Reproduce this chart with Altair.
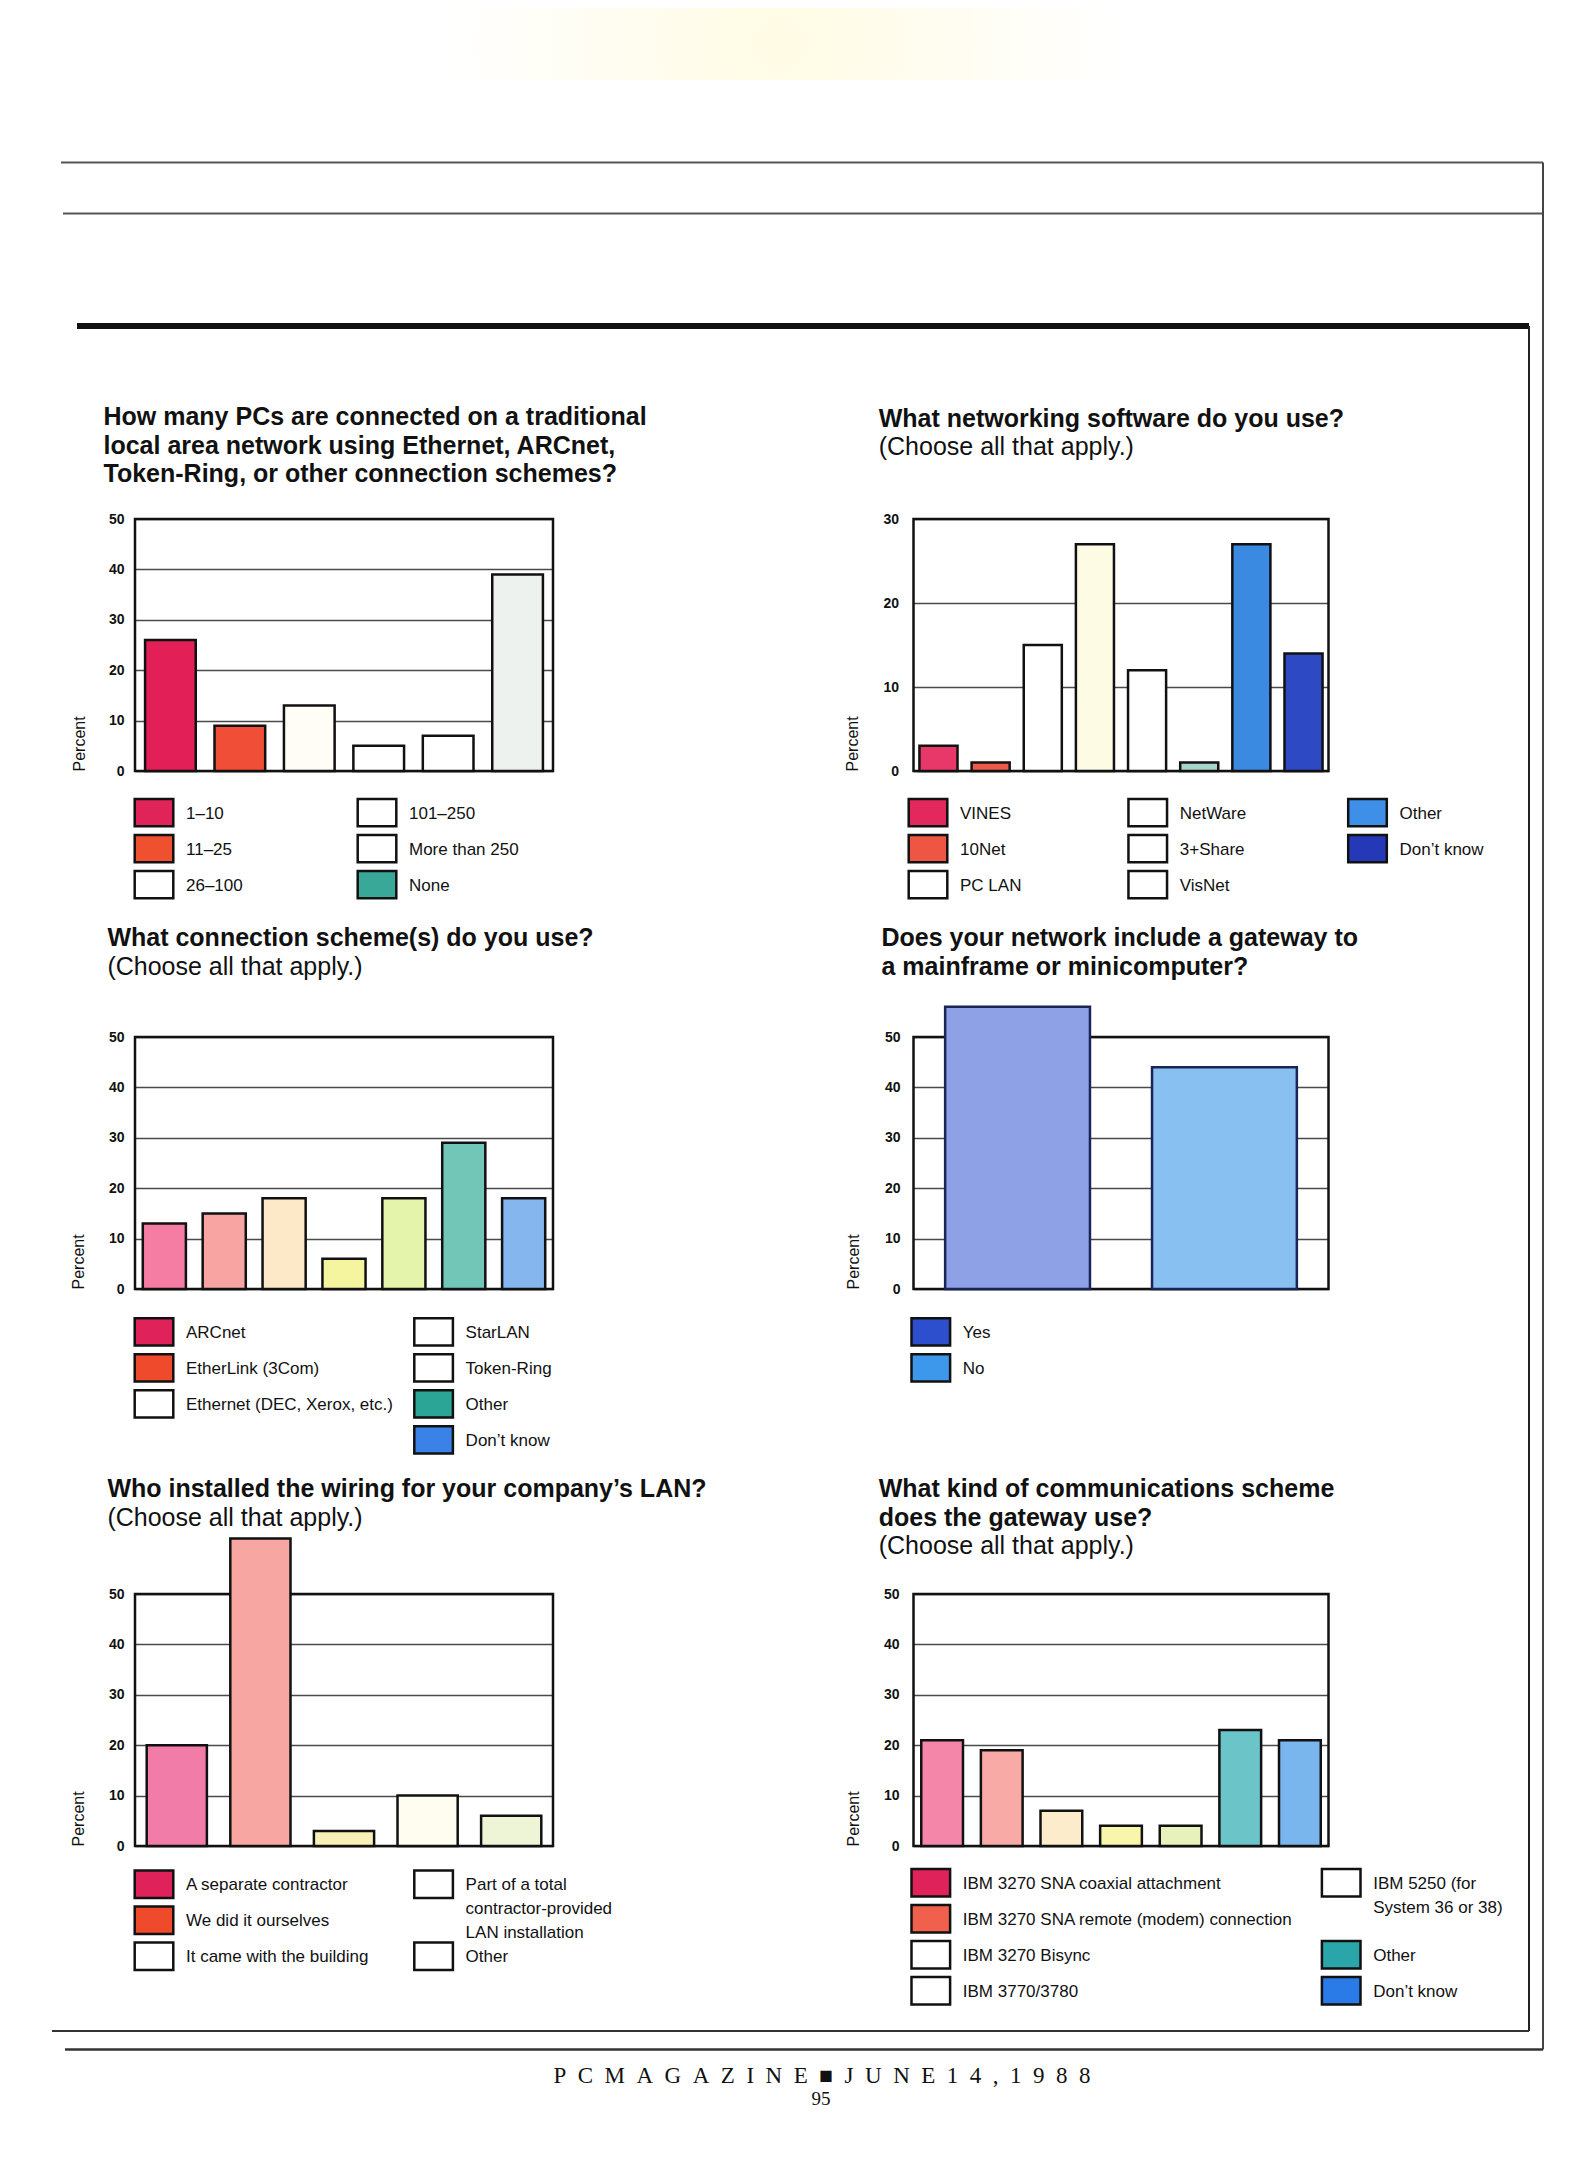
import altair as alt
import pandas as pd

SANS = "Liberation Sans, Arial, Helvetica, sans-serif"
KEYFONT = "Liberation Sans, Arial, Helvetica, sans-serif"
SERIF = "Liberation Serif, Times New Roman, serif"

# ---------------- data ----------------
p1_bold = ["How many PCs are connected on a traditional",
           "local area network using Ethernet, ARCnet,",
           "Token-Ring, or other connection schemes?"]
p1_reg = []
p1_keys = [["1–10", "11–25", "26–100"],
           ["101–250", "More than 250", "None"]]
p1_vals = [26, 9, 13, 5, 7, 39]
p1_bar = ["#e21f56", "#f04e36", "#fffdf6", "#ffffff", "#ffffff", "#edf2ee"]
p1_key = ["#e0245a", "#ef5030", "#ffffff", "#ffffff", "#ffffff", "#3aa898"]
p1_ticks = [0, 10, 20, 30, 40, 50]

p2_bold = ["What networking software do you use?"]
p2_reg = ["(Choose all that apply.)"]
p2_keys = [["VINES", "10Net", "PC LAN"],
           ["NetWare", "3+Share", "VisNet"],
           ["Other", "Don’t know"]]
p2_vals = [3, 1, 15, 27, 12, 1, 27, 14]
p2_bar = ["#e8386a", "#ee5a48", "#ffffff", "#fefbe4", "#ffffff", "#a6d6ca", "#3b8ae2", "#2d4ac4"]
p2_key = ["#e2285c", "#ee5644", "#ffffff", "#ffffff", "#ffffff", "#ffffff", "#3d8fe8", "#2438b8"]
p2_ticks = [0, 10, 20, 30]

p3_bold = ["What connection scheme(s) do you use?"]
p3_reg = ["(Choose all that apply.)"]
p3_keys = [["ARCnet", "EtherLink (3Com)", "Ethernet (DEC, Xerox, etc.)"],
           ["StarLAN", "Token-Ring", "Other", "Don’t know"]]
p3_vals = [13, 15, 18, 6, 18, 29, 18]
p3_bar = ["#f57ca2", "#f7a4a2", "#fde8c8", "#f4f59e", "#e4f4aa", "#72c6b8", "#86b6ee"]
p3_key = ["#e0225a", "#f04a2c", "#ffffff", "#ffffff", "#ffffff", "#2aa596", "#3a82e8"]
p3_ticks = [0, 10, 20, 30, 40, 50]

p4_bold = ["Does your network include a gateway to",
           "a mainframe or minicomputer?"]
p4_reg = []
p4_keys = [["Yes", "No"]]
p4_vals = [56, 44]
p4_bar = ["#8ea0e6", "#88c0f2"]
p4_key = ["#2d4fce", "#3d98ec"]
p4_ticks = [0, 10, 20, 30, 40, 50]

p5_bold = ["Who installed the wiring for your company’s LAN?"]
p5_reg = ["(Choose all that apply.)"]
p5_keys = [["A separate contractor", "We did it ourselves", "It came with the building"],
           ["Part of a total\ncontractor-provided\nLAN installation", "Other"]]
p5_vals = [20, 61, 3, 10, 6]
p5_bar = ["#f27ca8", "#f7a6a2", "#f8f0b6", "#fefdf0", "#eef4d6"]
p5_key = ["#e0225a", "#f04a2c", "#ffffff", "#ffffff", "#ffffff"]
p5_ticks = [0, 10, 20, 30, 40, 50]

p6_bold = ["What kind of communications scheme",
           "does the gateway use?"]
p6_reg = ["(Choose all that apply.)"]
p6_keys = [["IBM 3270 SNA coaxial attachment", "IBM 3270 SNA remote (modem) connection",
            "IBM 3270 Bisync", "IBM 3770/3780"],
           ["IBM 5250 (for\nSystem 36 or 38)", "Other", "Don’t know"]]
p6_vals = [21, 19, 7, 4, 4, 23, 21]
p6_bar = ["#f486aa", "#f7aaa6", "#fdeccc", "#f8f6aa", "#e6f2ba", "#6ac4c8", "#7ab6ee"]
p6_key = ["#e0225a", "#f0604c", "#ffffff", "#ffffff", "#ffffff", "#2aa5aa", "#2a7ae8"]
p6_ticks = [0, 10, 20, 30, 40, 50]

footer_text = "PC MAGAZINE ■ JUNE 14, 1988"
page_number = "95"

# ---------------- layout helpers ----------------
OX, OY = 135, 519          # page position of the first panel's plot origin
HD = 252                   # plot-box height
ROW = 36                   # key row step
SWATCH = "M-1,-0.71L1,-0.71L1,0.71L-1,0.71Z"
ONE = pd.DataFrame({"k": [0]})


def px(x):
    return x - OX


def py(y):
    return y - OY


def hline(x1, x2, y, w, c="#3a3a3a"):
    return alt.Chart(ONE).mark_rule(color=c, strokeWidth=w).encode(
        x=alt.value(px(x1)), x2=alt.value(px(x2)), y=alt.value(py(y)))


def vline(x, y1, y2, w, c="#3a3a3a"):
    return alt.Chart(ONE).mark_rule(color=c, strokeWidth=w).encode(
        x=alt.value(px(x)), y=alt.value(py(y1)), y2=alt.value(py(y2)))


def panel(bold, reg, keys, vals, bar_cols, key_cols, ticks, W, VH, title_dx, title_y0,
          key_x, key_top, axis_tx, label_pad, pin, pout, stroke="#111", pre=()):
    cats = [lab for col in keys for lab in col]
    ymax = ticks[-1]
    bars_df = pd.DataFrame({"cat": cats, "val": vals, "fill": bar_cols})
    recs = []
    for ci, col in enumerate(keys):
        r = 0
        for lab in col:
            recs.append({"label": lab, "col": ci, "row": r})
            r += min(lab.count("\n") + 1, 2)
    key_df = pd.DataFrame(recs)
    key_df["fill"] = key_cols

    frame = alt.Chart(ONE).mark_rect(filled=False, stroke="#111", strokeWidth=2.5).encode(
        x=alt.value(0), x2=alt.value(W), y=alt.value(0), y2=alt.value(HD))
    bars = alt.Chart(bars_df).mark_bar(stroke=stroke, strokeWidth=2.5).encode(
        x=alt.X("cat:N", sort=cats, axis=None,
                scale=alt.Scale(paddingInner=pin, paddingOuter=pout)),
        y=alt.Y("val:Q", scale=alt.Scale(domain=[0, ymax], range=[HD, 0], nice=False),
                axis=alt.Axis(values=ticks, grid=True, gridColor="#4a4a4a", gridWidth=1.4,
                              domain=False, ticks=False, labelFont=SANS, labelFontSize=14,
                              labelFontWeight="bold", labelColor="#111", labelPadding=label_pad,
                              title="Percent", titleFont=SANS, titleFontSize=16,
                              titleFontWeight="normal", titleColor="#111", titleAngle=270,
                              titleAlign="left", titleBaseline="middle",
                              titleX=axis_tx, titleY=HD)),
        fill=alt.Fill("fill:N", scale=None))
    main = alt.layer(frame, bars)

    ncol = len(keys)
    xr = [key_x[0], key_x[-1]] if ncol > 1 else [key_x[0], key_x[0] + 200]
    kx = alt.X("col:Q", axis=None,
               scale=alt.Scale(domain=[0, max(ncol - 1, 1)], range=xr, nice=False, zero=False))
    ky = alt.Y("row:Q", axis=None,
               scale=alt.Scale(domain=[0, 3], range=[key_top, key_top + 3 * ROW], nice=False, zero=False))
    sw = alt.Chart(key_df).mark_point(shape=SWATCH, filled=True, size=1490, stroke="#111",
                                      strokeWidth=2.5, opacity=1, xOffset=19).encode(
        x=kx, y=ky, fill=alt.Fill("fill:N", scale=None))
    tx = alt.Chart(key_df).mark_text(align="left", baseline="top", dx=51, dy=-7, font=KEYFONT,
                                     fontSize=17, lineHeight=24, lineBreak="\n",
                                     color="#111").encode(x=kx, y=ky, text="label:N")
    key = alt.layer(sw, tx)

    titles = []
    lines = [(t, "bold") for t in bold] + [(t, "normal") for t in reg]
    for i, (t, wgt) in enumerate(lines):
        titles.append(alt.Chart(ONE).mark_text(
            text=t, align="left", baseline="middle", font=SANS, fontSize=25,
            fontWeight=wgt, color="#111").encode(
            x=alt.value(title_dx), y=alt.value(title_y0 + i * 28.5)))

    return alt.layer(*pre, main, key, *titles).resolve_scale(
        x="independent", y="independent").properties(width=W, height=VH)


# ---------------- page decoration ----------------
# invisible rectangle spanning the page, so the chart's bounds start at the page margin
page_bg = alt.Chart(ONE).mark_rect(fill="white", opacity=0).encode(
    x=alt.value(px(8)), x2=alt.value(px(1569)), y=alt.value(py(8)), y2=alt.value(py(2152)))
smudge = alt.Chart(ONE).mark_rect(fill=alt.RadialGradient(
    gradient="radial",
    stops=[alt.GradientStop(offset=0, color="#fffbe4"),
           alt.GradientStop(offset=1, color="#ffffff")])).encode(
    x=alt.value(px(440)), x2=alt.value(px(1120)), y=alt.value(py(8)), y2=alt.value(py(80)))
spaced = "\u2002".join(ch for ch in footer_text if ch != " ")
foot1 = alt.Chart(ONE).mark_text(text=spaced, font=SERIF, fontSize=23, align="center",
                                 baseline="middle", color="#111").encode(
    x=alt.value(px(822)), y=alt.value(py(2076)))
foot2 = alt.Chart(ONE).mark_text(text=page_number, font=SERIF, fontSize=19, align="center",
                                 baseline="middle", color="#111").encode(
    x=alt.value(px(821)), y=alt.value(py(2099)))
deco = [page_bg, smudge,
        hline(61, 1543, 162.5, 2.2, "#555"),
        hline(63, 1543, 213.5, 2.2, "#555"),
        vline(1543, 162.5, 2049.5, 2, "#444"),
        hline(77, 1529, 326, 6, "#111"),
        vline(1529, 326, 2031, 2, "#222"),
        hline(52, 1529, 2031, 2.2, "#333"),
        hline(65, 1543, 2049.5, 2.5, "#333"),
        foot1, foot2]

# ---------------- panels ----------------
P1 = panel(p1_bold, p1_reg, p1_keys, p1_vals, p1_bar, p1_key, p1_ticks, 418, 252, -31.5, -102,
           [0, 223], 293.6, -56, 11, 0.27, 0.145, pre=deco)
P2 = panel(p2_bold, p2_reg, p2_keys, p2_vals, p2_bar, p2_key, p2_ticks, 415, 252, -34.8, -100.3,
           [-4.5, 435], 293.6, -61, 15, 0.27, 0.114)
P3 = panel(p3_bold, p3_reg, p3_keys, p3_vals, p3_bar, p3_key, p3_ticks, 418, 291, -27.6, -99,
           [0, 279.6], 294.9, -56.5, 11, 0.28, 0.13)
P4 = panel(p4_bold, p4_reg, p4_keys, p4_vals, p4_bar, p4_key, p4_ticks, 415, 291, -32, -99,
           [-1.7], 294.9, -60, 13.5, 0.3, 0.153, stroke="#1a2456")
P5 = panel(p5_bold, p5_reg, p5_keys, p5_vals, p5_bar, p5_key, p5_ticks, 418, 252, -27.6, -105,
           [0, 279.6], 290.2, -56.5, 11, 0.28, 0.14)
P6 = panel(p6_bold, p6_reg, p6_keys, p6_vals, p6_bar, p6_key, p6_ticks, 415, 252, -34.8, -105,
           [-1.7, 408.7], 288.8, -60, 14.5, 0.3, 0.13)

chart = alt.concat(P1, P2, P3, P4, P5, P6, columns=2,
                   spacing={"row": 266, "column": 360.5},
                   bounds="flush", align="each").properties(
    padding=0, background="white").configure_view(stroke=None)

chart.save("out.html", embed_options={"renderer": "svg", "actions": False})
